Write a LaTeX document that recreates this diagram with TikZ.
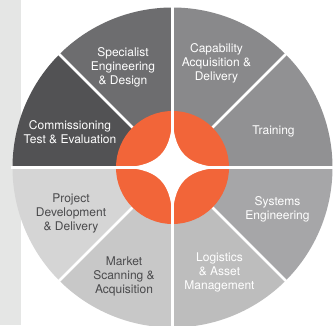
\documentclass[tikz,border=0pt]{standalone}
\usepackage{fontspec}
\setmainfont{TeX Gyre Heros}
\definecolor{band}{HTML}{E5E6E5}
\definecolor{sA}{HTML}{6D6D6F}
\definecolor{sB}{HTML}{525254}
\definecolor{sC}{HTML}{89898B}
\definecolor{sD}{HTML}{919193}
\definecolor{sE}{HTML}{A6A6A8}
\definecolor{sF}{HTML}{BDBDBD}
\definecolor{sG}{HTML}{C8C8C8}
\definecolor{sH}{HTML}{D5D5D5}
\definecolor{orng}{HTML}{F26539}
\definecolor{darktxt}{HTML}{4A4A4C}
\tikzset{
  lbl/.style={align=center, font=\fontsize{12}{14}\selectfont, inner sep=0pt},
  lightlbl/.style={lbl, text=white},
  darklbl/.style={lbl, text=darktxt},
  gap/.style={white, line width=2.6pt}
}
\begin{document}
\begin{tikzpicture}[x=1pt,y=1pt]
\useasboundingbox (0,0) rectangle (334,325);
\clip (0,0) rectangle (334,325);
\fill[white] (0,0) rectangle (334,325);
\fill[band] (0,0) rectangle (21,325);
\coordinate (C) at (172.5,157.5);
% sectors
\foreach \a/\col in {0/sD,45/sC,90/sA,135/sB,180/sH,225/sG,270/sF,315/sE}{
  \fill[\col] (C) -- ++(\a:160) arc[start angle=\a, delta angle=45, radius=160] -- cycle;
}
% diagonal gaps
\foreach \a in {45,135,225,315}{
  \draw[gap] (C) -- ++(\a:162);
}
% centre
\fill[orng] (C) circle[radius=56.5];
\fill[white, shift={(C)}] (0,56.5) .. controls (0,14) and (14,0) .. (56.5,0)
  .. controls (14,0) and (0,-14) .. (0,-56.5)
  .. controls (0,-14) and (-14,0) .. (-56.5,0)
  .. controls (-14,0) and (0,14) .. (0,56.5) -- cycle;
\foreach \a in {0,90,180,270}{
  \draw[gap] (C) -- ++(\a:162);
}
% labels
\node[lightlbl] (spec) at (123,257.5) {Specialist\\Engineering\\\& Design};
\node[lightlbl] (capa) at (216.5,261.5) {Capability\\Acquisition \&\\Delivery};
\node[lightlbl] (comm) at (70,193) {Commissioning\\Test \& Evaluation};
\node[lightlbl] (trai) at (273.5,194) {Training};
\node[darklbl] (proj) at (71,111.5) {Project\\Development\\\& Delivery};
\node[lightlbl] (syst) at (277.5,116) {Systems\\Engineering};
\node[darklbl] (mark) at (124,49) {Market\\Scanning \&\\Acquisition};
\node[lightlbl] (logi) at (219.5,53) {Logistics\\\& Asset\\Management};
\end{tikzpicture}
\end{document}
